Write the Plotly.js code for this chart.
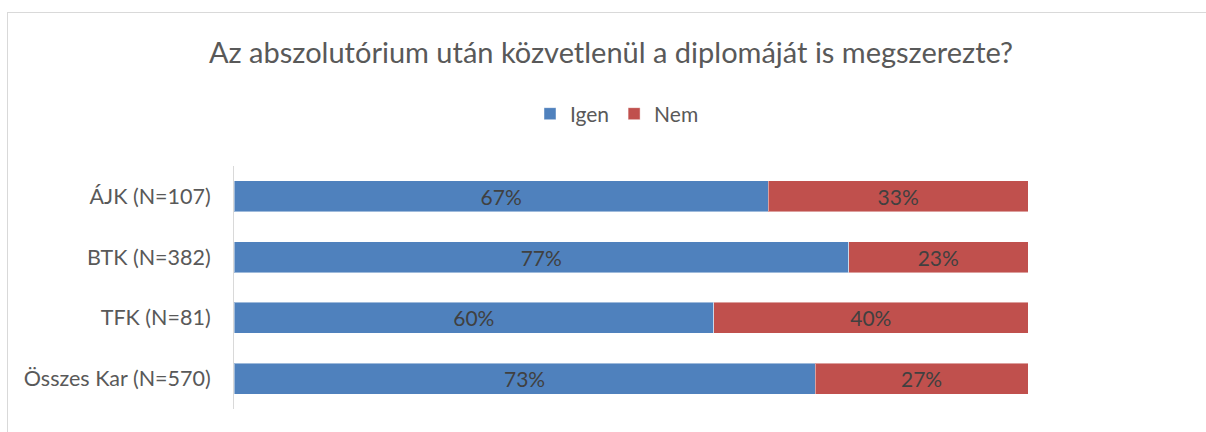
<!DOCTYPE html>
<html>
<head>
<meta charset="utf-8">
<script src="https://cdn.plot.ly/plotly-3.0.1.min.js"></script>
<style>
html,body{margin:0;padding:0;background:#fff;overflow:hidden;}
#frame{position:absolute;left:7px;top:12px;width:1300px;height:500px;border:1px solid #d9d9d9;box-sizing:border-box;}
#chart{position:absolute;left:0;top:0;width:1206px;height:432px;}
</style>
</head>
<body>
<div id="frame"></div>
<div id="chart"></div>
<script>
const categories = ["ÁJK (N=107)", "BTK (N=382)", "TFK (N=81)", "Összes Kar (N=570)"];
const igen = [67.3, 77.4, 60.4, 73.2];
const nem = [32.7, 22.6, 39.6, 26.8];
const seriesNames = ["Igen", "Nem"];
const titleText = "Az abszolutórium után közvetlenül a diplomáját is megszerezte?";

const font = "Lato, 'Open Sans', sans-serif";
function trace(name, vals, color) {
  return {
    type: "bar", orientation: "h", name: name,
    y: categories, x: vals,
    marker: {color: color, line: {color: "rgba(255,255,255,0.45)", width: 1}},
    text: vals.map(v => Math.round(v) + "%"),
    textposition: "inside", insidetextanchor: "middle",
    textfont: {family: font, size: 21, color: "#404040"},
    hoverinfo: "skip"
  };
}
const data = [trace(seriesNames[0], igen, "#4f81bd"), trace(seriesNames[1], nem, "#c0504d")];
const layout = {
  width: 1206, height: 432,
  paper_bgcolor: "rgba(0,0,0,0)", plot_bgcolor: "rgba(0,0,0,0)",
  margin: {l: 234, r: 178, t: 166, b: 23, pad: 0},
  barmode: "stack", bargap: 0.49,
  font: {family: font, color: "#595959"},
  title: {text: titleText, font: {family: font, size: 29, color: "#595959"},
          xref: "container", x: 611/1206, xanchor: "center", yref: "container", y: 1 - 53/432, yanchor: "middle"},
  showlegend: true,
  legend: {orientation: "h", xref: "container", x: 617/1206, xanchor: "center",
           yref: "container", y: 1 - 114/432, yanchor: "middle",
           font: {family: font, size: 21, color: "#595959"}, traceorder: "normal"},
  xaxis: {range: [0, 100], showticklabels: false, showgrid: false, zeroline: false, showline: false, fixedrange: true},
  yaxis: {autorange: "reversed", showline: true, linecolor: "#d9d9d9", linewidth: 1,
          ticks: "", showgrid: false, zeroline: false, ticklabelstandoff: 18,
          tickfont: {family: font, size: 21.5, color: "#595959"}}
};
Plotly.newPlot("chart", data, layout, {displayModeBar: false, staticPlot: true});
</script>
</body>
</html>
